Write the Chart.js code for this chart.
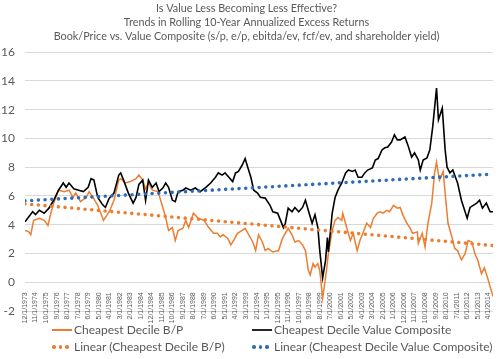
<!DOCTYPE html>
<html><head><meta charset="utf-8">
<script src="https://cdn.jsdelivr.net/npm/chart.js@4/dist/chart.umd.min.js"></script>
<style>
html,body{margin:0;padding:0;background:#fff;}
#wrap{position:relative;width:500px;height:359px;overflow:hidden;}
canvas{position:absolute;left:0;top:0;}
.lgt{position:absolute;font:12px Lato, sans-serif;color:#595959;white-space:nowrap;line-height:14px;}
.lgl{position:absolute;height:2.5px;width:20px;}
.lgd{position:absolute;width:3.6px;height:3.6px;border-radius:50%;}
</style></head><body>
<div id="wrap"><canvas id="c" width="500" height="359"></canvas><div id="legend"></div></div>
<script>
const titleLines = ['Is Value Less Becoming Less Effective?','Trends in Rolling 10-Year Annualized Excess Returns','Book/Price vs. Value Composite (s/p, e/p, ebitda/ev, fcf/ev, and shareholder yield)'];
const tickLabels = ['12/1/1973','11/1/1974','10/1/1975','9/1/1976','8/1/1977','7/1/1978','6/1/1979','5/1/1980','4/1/1981','3/1/1982','2/1/1983','1/1/1984','12/1/1984','11/1/1985','10/1/1986','9/1/1987','8/1/1988','7/1/1989','6/1/1990','5/1/1991','4/1/1992','3/1/1993','2/1/1994','1/1/1995','12/1/1995','11/1/1996','10/1/1997','9/1/1998','8/1/1999','7/1/2000','6/1/2001','5/1/2002','4/1/2003','3/1/2004','2/1/2005','1/1/2006','12/1/2006','11/1/2007','10/1/2008','9/1/2009','8/1/2010','7/1/2011','6/1/2012','5/1/2013','4/1/2014'];
// months since 12/1973
const vcMonths = [0,8,11,15,20,25,30,35,40,43,46,51,56,61,66,69,72,76,81,84,88,93,98,100,103,108,113,116,119,123,126,129,133,137,140,144,147,150,154,157,160,165,168,173,178,183,189,194,199,202,206,209,213,217,220,223,227,230,232,236,239,243,246,251,256,259,264,267,270,272,275,279,282,286,290,293,296,300,303,306,308,311,314,316,317,321,324,327,331,335,338,342,345,348,352,355,358,363,366,369,373,376,379,383,386,389,392,397,400,404,407,411,413,416,420,423,426,430,432,436,439,441,444,447,452,456,462,465,472,475,478,482,486,489];
const vcValues = [4.2,4.9,4.7,5.0,4.8,5.15,5.7,6.4,6.9,6.6,6.9,6.5,6.4,6.3,6.6,7.2,7.1,5.9,5.4,5.2,5.85,6.2,7.45,7.6,7.1,6.2,5.5,5.9,6.8,7.1,5.7,7.1,6.6,6.9,6.3,6.55,6.9,6.6,5.7,5.6,6.3,6.4,6.55,6.4,6.55,6.3,6.6,6.9,7.3,7.6,7.45,7.6,7.3,7.0,7.6,7.7,8.15,8.6,8.15,7.3,6.4,6.2,5.9,5.85,5.35,4.9,4.8,4.3,3.8,4.1,5.15,4.9,5.2,4.9,5.2,5.7,5.0,4.1,4.7,3.8,2.2,0.3,1.5,3.1,2.1,4.8,5.9,6.4,6.9,7.6,7.8,7.7,7.8,7.3,7.3,7.6,7.8,7.95,8.5,8.6,9.2,9.35,9.4,9.75,10.25,9.9,9.9,10.1,9.55,8.7,9.0,8.5,7.8,8.5,8.65,9.2,10.8,13.5,11.3,12.1,9.2,8.0,7.6,7.8,6.9,5.7,4.45,5.2,5.5,5.7,5.15,5.5,4.9,4.9];
const bpMonths = [0,4,6,9,15,20,24,27,30,35,41,46,50,53,58,64,67,71,76,82,88,93,98,100,105,110,116,119,123,126,129,133,139,144,147,150,154,157,160,165,168,171,176,181,187,192,197,201,204,207,212,215,218,222,227,230,233,238,241,244,248,251,254,259,265,269,272,275,279,282,286,290,293,296,298,301,303,306,308,311,315,317,321,324,327,331,332,337,340,343,347,350,353,357,361,364,368,371,374,378,381,385,389,392,395,399,402,405,410,411,415,418,421,425,428,430,433,437,439,442,446,449,452,456,460,463,467,470,473,477,480,484,489];
const bpValues = [3.6,3.5,3.3,4.3,4.45,4.3,3.95,4.8,5.5,6.4,6.3,6.4,5.9,6.2,5.6,5.9,6.3,5.9,5.35,4.3,4.9,5.7,7.1,7.2,6.9,7.0,7.2,7.45,7.1,6.5,6.9,6.4,6.3,5.2,4.5,3.6,3.8,2.9,3.6,3.75,4.3,3.8,4.8,4.45,4.3,3.8,3.4,3.4,3.15,3.3,3.05,2.6,2.9,3.4,3.6,3.75,3.4,2.8,2.2,3.3,2.8,2.2,2.35,2.1,2.2,3.05,3.4,3.75,3.3,2.8,2.9,2.6,2.2,0.85,0.5,1.3,1.05,1.3,0.8,-1.1,0.8,2.0,3.6,4.3,4.5,4.3,4.8,3.6,2.9,3.4,2.2,2.9,3.4,4.1,3.8,4.45,4.8,4.9,4.8,5.0,4.9,5.35,5.15,5.2,4.65,4.1,3.8,3.4,3.5,2.7,3.4,2.45,4.1,5.5,7.6,8.35,7.1,7.7,6.2,4.1,3.15,2.35,2.2,1.55,2.0,2.9,2.8,2.0,1.55,0.6,1.0,0.15,-1.0];
const trendMonths = [0,489];
const bpTrend = [5.45,2.55];
const vcTrend = [5.66,7.52];
const seriesNames = ['Cheapest Decile B/P','Cheapest Decile Value Composite','Linear (Cheapest Decile B/P)','Linear (Cheapest Decile Value Composite)'];

const ORANGE='#ED7D31', BLACK='#000000', BLUE='#2E6DB4';
const FONT='Lato, sans-serif';
const pts=(ms,vs)=>ms.map((m,i)=>({x:m,y:vs[i]}));

new Chart(document.getElementById('c'),{
  type:'line',
  data:{datasets:[
    {label:seriesNames[0],data:pts(bpMonths,bpValues),borderColor:ORANGE,borderWidth:1.5,pointRadius:0,tension:0,order:2},
    {label:seriesNames[1],data:pts(vcMonths,vcValues),borderColor:BLACK,borderWidth:1.6,pointRadius:0,tension:0,order:1},
    {label:seriesNames[2],data:pts(trendMonths,bpTrend),borderColor:ORANGE,borderWidth:3.6,borderDash:[0,6.7],borderCapStyle:'round',pointRadius:0,order:0},
    {label:seriesNames[3],data:pts(trendMonths,vcTrend),borderColor:BLUE,borderWidth:3.6,borderDash:[0,6.7],borderCapStyle:'round',pointRadius:0,order:0}
  ]},
  options:{
    responsive:false,animation:false,devicePixelRatio:1,
    layout:{padding:{left:0,right:7,top:0,bottom:48}},
    plugins:{
      legend:{display:false},tooltip:{enabled:false},
      title:{display:true,text:titleLines,color:'#595959',font:{family:FONT,size:10.8,weight:'normal',lineHeight:1.3},padding:{top:1,bottom:9}}
    },
    scales:{
      x:{type:'linear',min:0,max:489,position:{y:0},grid:{display:false},border:{display:false},
        afterBuildTicks:s=>{s.ticks=tickLabels.map((t,i)=>({value:i*11}));},
        afterFit:s=>{s.height=0;},
        ticks:{autoSkip:false,maxRotation:90,minRotation:90,padding:2,color:'#595959',font:{family:'Liberation Sans',size:7},
          callback:(v)=>tickLabels[Math.round(v/11)]}},
      y:{min:-2,max:16,grid:{color:'#d9d9d9',drawTicks:false},border:{display:false},
        afterFit:s=>{s.width=25;},
        ticks:{stepSize:2,color:'#595959',font:{family:FONT,size:12},padding:10}}
    }
  }
});

// legend
const lg=document.getElementById('legend');
const items=[
  {name:seriesNames[0],color:ORANGE,type:'line',x:52,y:330},
  {name:seriesNames[1],color:'#262626',type:'line',x:252,y:330},
  {name:seriesNames[2],color:ORANGE,type:'dot',x:52,y:347},
  {name:seriesNames[3],color:BLUE,type:'dot',x:252,y:347}
];
items.forEach(it=>{
  if(it.type==='line'){
    const d=document.createElement('div');d.className='lgl';d.style.background=it.color;
    d.style.left=it.x+'px';d.style.top=(it.y-1.25)+'px';lg.appendChild(d);
  } else {
    [0,6.5,13].forEach(o=>{const d=document.createElement('div');d.className='lgd';d.style.background=it.color;
      d.style.left=(it.x+o)+'px';d.style.top=(it.y-1.8)+'px';lg.appendChild(d);});
  }
  const t=document.createElement('div');t.className='lgt';t.textContent=it.name;
  t.style.left=(it.x+22)+'px';t.style.top=(it.y-7)+'px';lg.appendChild(t);
});
</script>
</body></html>
